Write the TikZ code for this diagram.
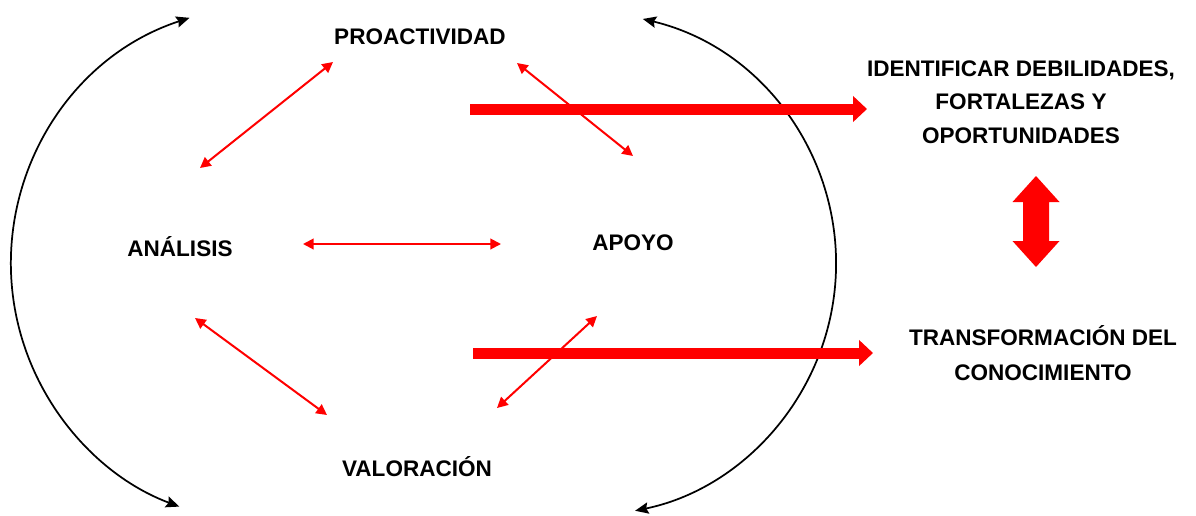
\documentclass[tikz,border=0pt]{standalone}
\usepackage{fontspec}
\setmainfont{Liberation Sans}
\usetikzlibrary{arrows.meta,calc}
\begin{document}
\begin{tikzpicture}[x=0.75pt,y=0.75pt,
  lbl/.style={font=\bfseries\fontsize{16.9}{25}\selectfont, inner sep=0pt, anchor=base},
  redlink/.style={draw=red, line width=1.5pt, {Triangle[length=8pt,width=8pt]}-{Triangle[length=8pt,width=8pt]}},
  redflow/.style={draw=red, line width=8.25pt, -{Triangle[length=10.5pt,width=19pt]}},
  cyclearc/.style={draw=black, line width=1.3pt, {Stealth[length=10pt,width=8.5pt,inset=1.5pt]}-{Stealth[length=10pt,width=8.5pt,inset=1.5pt]}}]
\useasboundingbox (0,0) rectangle (1196,-515);

% text nodes
\node[lbl] (pro) at (420,-44) {PROACTIVIDAD};
\node[lbl] (ana) at (180,-256) {ANÁLISIS};
\node[lbl] (apo) at (633,-250) {APOYO};
\node[lbl] (val) at (417,-476) {VALORACIÓN};
\node[lbl, align=center] (idf) at (1021,-143) {IDENTIFICAR DEBILIDADES,\\FORTALEZAS Y\\OPORTUNIDADES};
\node[lbl, align=center, font=\bfseries\fontsize{16.9}{26}\selectfont] (tra) at (1043,-380) {TRANSFORMACIÓN DEL\\CONOCIMIENTO};

% cycle arcs
\coordinate (lc) at (270,-264);
\coordinate (rc) at (584,-264);
\draw[cyclearc] ($(lc)+(108.1:259)$) arc[start angle=108.1, end angle=249.5, radius=259];
\draw[cyclearc] ($(rc)+(76.5:252)$) arc[start angle=76.5, end angle=-78.3, radius=252];

% thin red links
\coordinate (a1s) at (200,-168); \coordinate (a1e) at (333,-62);
\coordinate (a2s) at (517,-63);  \coordinate (a2e) at (633,-156);
\coordinate (a3s) at (303,-244); \coordinate (a3e) at (501,-244);
\coordinate (a4s) at (195,-318); \coordinate (a4e) at (327,-415);
\coordinate (a5s) at (597,-316); \coordinate (a5e) at (497,-408);
\draw[redlink] (a1s) -- (a1e);
\draw[redlink] (a2s) -- (a2e);
\draw[redlink] (a3s) -- (a3e);
\draw[redlink] (a4s) -- (a4e);
\draw[redlink] (a5s) -- (a5e);

% thick red flows
\coordinate (t1s) at (470,-109); \coordinate (t1e) at (867,-109);
\coordinate (t2s) at (473,-353); \coordinate (t2e) at (873,-353);
\draw[redflow] (t1s) -- (t1e);
\draw[redflow] (t2s) -- (t2e);

% block double arrow
\fill[red] (1036,-176) -- (1059.5,-202) -- (1049,-202) -- (1049,-241) -- (1059.5,-241)
  -- (1036,-267) -- (1012.5,-241) -- (1023,-241) -- (1023,-202) -- (1012.5,-202) -- cycle;
\end{tikzpicture}
\end{document}
